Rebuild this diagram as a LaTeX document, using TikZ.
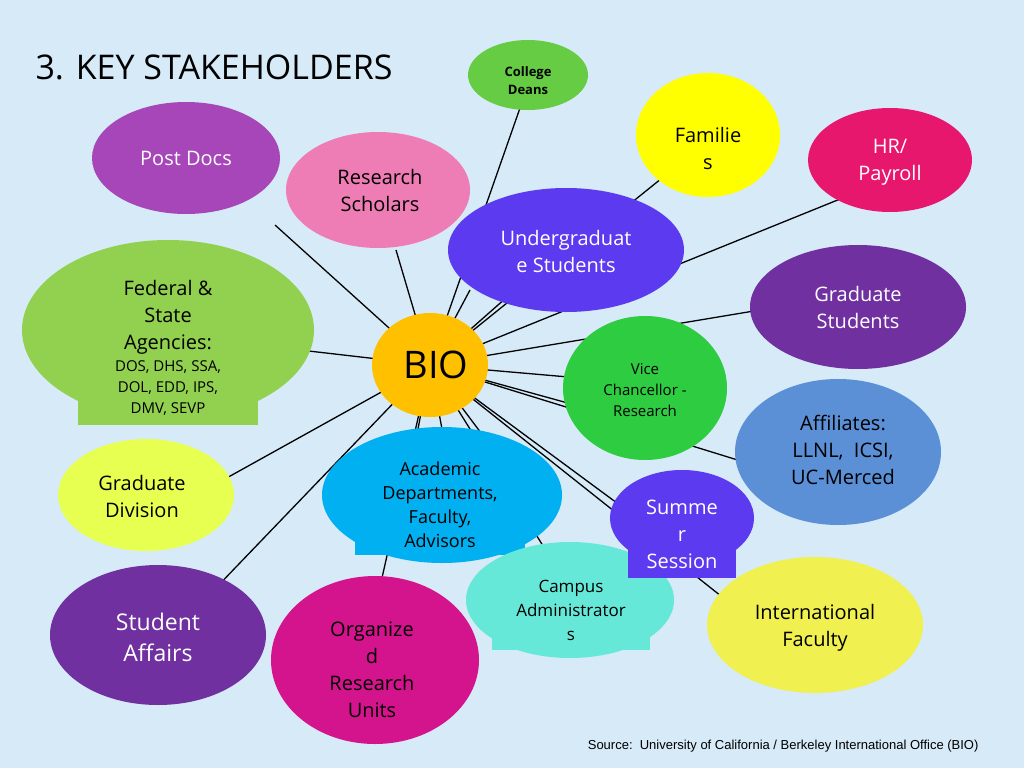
\documentclass[tikz,border=0pt]{standalone}
\usepackage{fontspec}
\setmainfont{Open Sans}
\newfontfamily\srcfont{Liberation Sans}
\begin{document}
\begin{tikzpicture}[x=1pt,y=-1pt,
  lab/.style={align=center,font=\fontsize{20}{27}\selectfont,text=#1},
  lab/.default=black,
  ln/.style={line width=1.3pt,black}]
\fill[fill={rgb,255:red,214;green,234;blue,248}] (0,0) rectangle (1024,768);
\useasboundingbox (0,0) rectangle (1024,768);
% anchor coordinates
\coordinate (bio) at (430,365);
\coordinate (ePD) at (275,225);
\coordinate (eRS) at (396,250);
\coordinate (eCD) at (520,108);
\coordinate (eFa) at (672,170);
\coordinate (eHR) at (850,195);
\coordinate (eGS) at (760,310);
\coordinate (eVC) at (580,378);
\coordinate (eAf) at (770,470);
\coordinate (eSS) at (640,520);
\coordinate (eCA) at (555,565);
\coordinate (eIF) at (726,600);
\coordinate (eOR) at (377,600);
\coordinate (eSA) at (212,592);
\coordinate (eGD) at (205,490);
\coordinate (eFe) at (300,350);
\coordinate (eU1) at (470,290);
\coordinate (eU2) at (515,290);
\coordinate (eA1) at (415,445);
\coordinate (eA2) at (445,445);
\coordinate (eA3) at (490,445);
\coordinate (eV2) at (575,405);
% connectors (beneath shapes)
\foreach \e in {ePD,eRS,eCD,eFa,eHR,eGS,eVC,eAf,eSS,eCA,eIF,eOR,eSA,eGD,eFe,eU1,eU2,eA1,eA2,eA3,eV2}
  \draw[ln] (bio) -- (\e);
% shapes
\fill[fill={rgb,255:red,102;green,204;blue,68}] (528,75) ellipse [x radius=60,y radius=35];
\fill[fill={rgb,255:red,255;green,255;blue,0}] (708,135) ellipse [x radius=72,y radius=62];
\fill[fill={rgb,255:red,232;green,23;blue,110}] (890,160) ellipse [x radius=82,y radius=52];
\fill[fill={rgb,255:red,166;green,70;blue,184}] (186,158) ellipse [x radius=94,y radius=56];
\fill[fill={rgb,255:red,238;green,125;blue,181}] (378,190) ellipse [x radius=92,y radius=58];
\fill[fill={rgb,255:red,91;green,58;blue,240}] (566,250) ellipse [x radius=118,y radius=62];
\fill[fill={rgb,255:red,112;green,48;blue,160}] (858,307) ellipse [x radius=108,y radius=62];
\fill[fill={rgb,255:red,146;green,208;blue,80}] (168,330) ellipse [x radius=146,y radius=90];
\fill[fill={rgb,255:red,146;green,208;blue,80}] (78,395) rectangle (258,425);
\fill[fill={rgb,255:red,255;green,192;blue,0}] (430,365) ellipse [x radius=58,y radius=52];
\fill[fill={rgb,255:red,46;green,204;blue,64}] (645,388) ellipse [x radius=82,y radius=72];
\fill[fill={rgb,255:red,91;green,143;blue,214}] (838,452) ellipse [x radius=103,y radius=73];
\fill[fill={rgb,255:red,230;green,255;blue,80}] (146,495) ellipse [x radius=88,y radius=56];
\fill[fill={rgb,255:red,0;green,176;blue,240}] (442,495) ellipse [x radius=120,y radius=68];
\fill[fill={rgb,255:red,0;green,176;blue,240}] (355,525) rectangle (525,555);
\fill[fill={rgb,255:red,102;green,232;blue,216}] (570,600) ellipse [x radius=104,y radius=58];
\fill[fill={rgb,255:red,102;green,232;blue,216}] (492,620) rectangle (650,650);
\fill[fill={rgb,255:red,91;green,58;blue,240}] (682,518) ellipse [x radius=72,y radius=48];
\fill[fill={rgb,255:red,91;green,58;blue,240}] (628,545) rectangle (736,578);
\fill[fill={rgb,255:red,240;green,240;blue,80}] (815,625) ellipse [x radius=108,y radius=68];
\fill[fill={rgb,255:red,112;green,48;blue,160}] (158,635) ellipse [x radius=108,y radius=70];
\fill[fill={rgb,255:red,212;green,20;blue,140}] (375,660) ellipse [x radius=104,y radius=84];
% labels
\node[anchor=west,font=\fontsize{34}{40}\selectfont] (title) at (32,67) {3. KEY STAKEHOLDERS};
\node[align=center,font=\bfseries\fontsize{13}{18}\selectfont] (cd) at (528,81) {College\\Deans};
\node[lab] (fa) at (708,148) {Familie\\s};
\node[lab=white] (hr) at (890,162) {HR/\\Payroll};
\node[lab=white] (pd) at (186,158) {Post Docs};
\node[lab] (rs) at (380,190) {Research\\Scholars};
\node[lab=white] (ug) at (566,251) {Undergraduat\\e Students};
\node[lab=white] (gs) at (858,307) {Graduate\\Students};
\node[align=center,font=\fontsize{20}{27}\selectfont] (fe) at (168,317) {Federal \&\\State\\Agencies:};
\node[align=center,font=\fontsize{15}{21}\selectfont] (fe2) at (168,388) {DOS, DHS, SSA,\\DOL, EDD, IPS,\\DMV, SEVP};
\node[font=\fontsize{38}{44}\selectfont] (b) at (436,365) {BIO};
\node[align=center,font=\fontsize{15}{21}\selectfont] (vc) at (645,390) {Vice\\Chancellor -\\Research};
\node[lab] (af) at (843,450) {Affiliates:\\LLNL,\ \ ICSI,\\UC-Merced};
\node[lab] (gd) at (142,496) {Graduate\\Division};
\node[align=center,font=\fontsize{18}{24}\selectfont] (ad) at (440,505) {Academic\\Departments,\\Faculty,\\Advisors};
\node[lab=white] (ss) at (682,534) {Summe\\r\\Session};
\node[align=center,font=\fontsize{17}{24}\selectfont] (ca) at (571,610) {Campus\\Administrator\\s};
\node[lab] (if) at (815,628) {International\\Faculty};
\node[align=center,font=\fontsize{23}{31}\selectfont,text=white] (sa) at (158,637) {Student\\Affairs};
\node[lab] (or) at (372,670) {Organize\\d\\Research\\Units};
\node[anchor=east,font=\srcfont\fontsize{13}{16}\selectfont] (src) at (982,746) {Source:\ \ University of California / Berkeley International Office (BIO)};
\end{tikzpicture}
\end{document}
